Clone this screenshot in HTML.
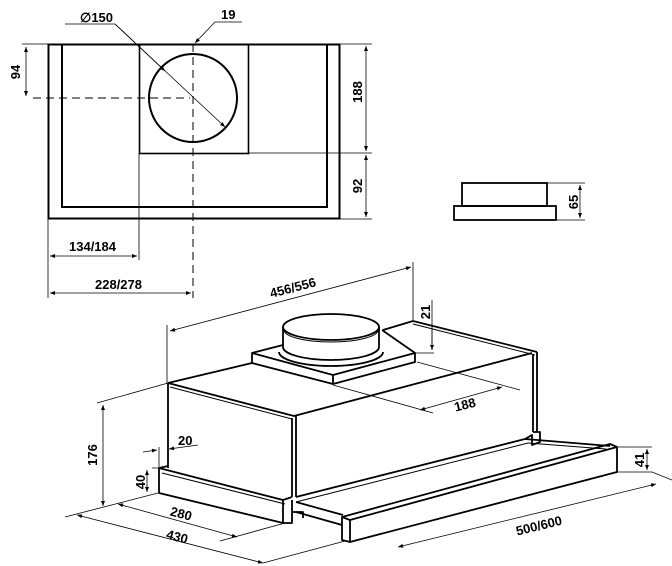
<!DOCTYPE html>
<html><head><style>html,body{margin:0;padding:0;background:#fff}svg{display:block}
text{font-family:"Liberation Sans",Arial,sans-serif;font-weight:bold;font-size:13px;fill:#000}</style></head>
<body>
<svg width="672" height="566" viewBox="0 0 672 566" xmlns="http://www.w3.org/2000/svg">
<defs>
<marker id="a" viewBox="0 0 10 10" refX="10" refY="5" markerWidth="7" markerHeight="5" orient="auto-start-reverse" markerUnits="userSpaceOnUse"><path d="M0,1 L10,5 L0,9 z" fill="#000"/></marker>
</defs>
<g fill="none" stroke="#000">
<rect x="48.5" y="44.5" width="291" height="174" stroke-width="2"/>
<path d="M62 44 V207 H327 V44" stroke-width="2"/>
<rect x="139.5" y="44.5" width="109" height="109" stroke-width="1.6"/>
<circle cx="193" cy="98" r="44" stroke-width="2"/>
<path d="M33 98 H190" stroke-width="1" stroke-dasharray="8,5"/>
<path d="M193 44 V298" stroke-width="1" stroke-dasharray="8,5"/>
<path d="M22 44 H48 M248 153 H372 M340 44 H372 M340 219 H372" stroke-width="0.8"/>
<path d="M26 47 V96" stroke-width="0.8" marker-start="url(#a)" marker-end="url(#a)"/>
<path d="M366 46 V151" stroke-width="0.8" marker-start="url(#a)" marker-end="url(#a)"/>
<path d="M366 155 V217" stroke-width="0.8" marker-start="url(#a)" marker-end="url(#a)"/>
<path d="M65 24 H115 L225 127" stroke-width="0.8" marker-end="url(#a)"/>
<path d="M115 24 L165 71" stroke-width="0.8" marker-end="url(#a)"/>
<path d="M242 22 H215 L195 43" stroke-width="0.8" marker-end="url(#a)"/>
<path d="M48 219 V298 M139 153 V260" stroke-width="0.8"/>
<path d="M50 256 H137" stroke-width="0.8" marker-start="url(#a)" marker-end="url(#a)"/>
<path d="M50 293 H191" stroke-width="0.8" marker-start="url(#a)" marker-end="url(#a)"/>
<rect x="462" y="183" width="85" height="23" stroke-width="1.8"/>
<rect x="454" y="206" width="102" height="14" stroke-width="1.8"/>
<path d="M547 183 H585 M556 220 H585" stroke-width="0.8"/>
<path d="M580 185 V218" stroke-width="0.8" marker-start="url(#a)" marker-end="url(#a)"/>

<g stroke-width="1.8" stroke-linejoin="round">
<path d="M168 383 L252 363"/>
<path d="M383 330 L413 321 L537 352"/>
<path d="M413 324 L535 355" stroke-width="1"/>
<path d="M168 383 L294 416 L532 353"/>
<path d="M170 387 L292 419" stroke-width="1"/>
<path d="M168 383 V468"/>
<path d="M292 418 V497 M296 416 V497"/>
<path d="M537 352 V432 M533 355 V432"/>
<path d="M159 468 L283 500 L292 497 M159 468 L168 466 M159 468 V493 L283 523 V500 M283 523 H292 V500"/>
<path d="M162 473 L285 504" stroke-width="1"/>
<path d="M292 512 L303 512 V518"/>
<path d="M252 353 L283 345 M382 330 L415 353 L333 375 L252 353 V363 L333 384 L415 362 V353 M333 375 V384"/>
<path d="M279 352 A52 14 0 0 0 383 352"/>
<path d="M283 327 V347 A48 13 0 0 0 379 347 V327"/>
<ellipse cx="331" cy="327" rx="48" ry="13" fill="#fff"/>
<path d="M284 330 A47 12 0 0 0 378 330" stroke-width="1"/>
<path d="M296 497 L525 439 L532 435 V445 L540 442 V432 L533 432"/>
<path d="M296 502 L528 443" stroke-width="1"/>
<path d="M525 439 L610 446"/>
<path d="M528 443 L606 449" stroke-width="1"/>
<path d="M296 502 L343 515 M296 512 L342 525"/>
<path d="M342 517 L610 444 L617 447 V472 L350 542 L342 540 V517 L350 520 L617 447 M350 520 V542"/>
</g>
<g stroke-width="0.8">
<path d="M167 325 V383 M413 262 V320"/>
<path d="M170 331 L411 267" marker-start="url(#a)" marker-end="url(#a)"/>
<path d="M415 353 H434 M432 300 V350" />
<path d="M432 330 V350" marker-end="url(#a)"/>
<path d="M333 385 L433 413 M417 362 L520 390"/>
<path d="M420 410 L502 387" marker-start="url(#a)" marker-end="url(#a)"/>
<path d="M168 383 L97 403 M158 493 L65 517"/>
<path d="M103 405 V506" marker-start="url(#a)" marker-end="url(#a)"/>
<path d="M159 447 V468 M152 468 H160"/>
<path d="M147 470 V492" marker-start="url(#a)" marker-end="url(#a)"/>
<path d="M143 452 L157 450" marker-end="url(#a)"/>
<path d="M198 445 L169 449" marker-end="url(#a)"/>
<path d="M118 504 L237 537" marker-start="url(#a)" marker-end="url(#a)"/>
<path d="M220 541 L285 523"/>
<path d="M77 515 L263 563" marker-start="url(#a)" marker-end="url(#a)"/>
<path d="M263 563 L345 541"/>
<path d="M617 447 H652 M617 472 H652 L672 480"/>
<path d="M647 449 V470" marker-start="url(#a)" marker-end="url(#a)"/>
<path d="M398 547 L656 484" marker-start="url(#a)" marker-end="url(#a)"/>
</g>
</g>
<text x="80" y="22">∅150</text>
<text x="221" y="19">19</text>
<text transform="translate(20,72) rotate(-90)" text-anchor="middle">94</text>
<text transform="translate(362,92) rotate(-90)" text-anchor="middle">188</text>
<text transform="translate(362,186) rotate(-90)" text-anchor="middle">92</text>
<text x="69" y="251">134/184</text>
<text x="95" y="289">228/278</text>
<text transform="translate(578,202) rotate(-90)" text-anchor="middle">65</text>
<text transform="translate(294,292) rotate(-14.6)" text-anchor="middle">456/556</text>
<text transform="translate(430,312) rotate(-90)" text-anchor="middle">21</text>
<text transform="translate(466,409) rotate(-14)" text-anchor="middle">188</text>
<text transform="translate(97,455) rotate(-90)" text-anchor="middle">176</text>
<text x="178" y="445">20</text>
<text transform="translate(145,482) rotate(-90)" text-anchor="middle">40</text>
<text transform="translate(180,518) rotate(15)" text-anchor="middle">280</text>
<text transform="translate(176,541) rotate(15)" text-anchor="middle">430</text>
<text transform="translate(540,530) rotate(-14)" text-anchor="middle">500/600</text>
<text transform="translate(644,460) rotate(-90)" text-anchor="middle">41</text>
</svg>
</body></html>
